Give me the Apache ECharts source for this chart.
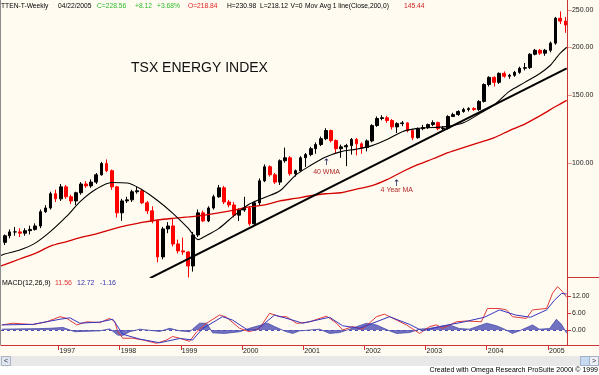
<!DOCTYPE html>
<html><head><meta charset="utf-8">
<script src="https://cdn.jsdelivr.net/npm/echarts@6/dist/echarts.min.js"></script>
<style>html,body{margin:0;padding:0;background:#fffbf0}#c{width:599px;height:375px}</style>
</head><body><div id="c"></div>
<script>
// ---------- DATA ----------
const monthLabels = [
 '1996-02','1996-03','1996-04','1996-05','1996-06','1996-07','1996-08','1996-09','1996-10','1996-11','1996-12',
 '1997-01','1997-02','1997-03','1997-04','1997-05','1997-06','1997-07','1997-08','1997-09','1997-10','1997-11','1997-12',
 '1998-01','1998-02','1998-03','1998-04','1998-05','1998-06','1998-07','1998-08','1998-09','1998-10','1998-11','1998-12',
 '1999-01','1999-02','1999-03','1999-04','1999-05','1999-06','1999-07','1999-08','1999-09','1999-10','1999-11','1999-12',
 '2000-01','2000-02','2000-03','2000-04','2000-05','2000-06','2000-07','2000-08','2000-09','2000-10','2000-11','2000-12',
 '2001-01','2001-02','2001-03','2001-04','2001-05','2001-06','2001-07','2001-08','2001-09','2001-10','2001-11','2001-12',
 '2002-01','2002-02','2002-03','2002-04','2002-05','2002-06','2002-07','2002-08','2002-09','2002-10','2002-11','2002-12',
 '2003-01','2003-02','2003-03','2003-04','2003-05','2003-06','2003-07','2003-08','2003-09','2003-10','2003-11','2003-12',
 '2004-01','2004-02','2004-03','2004-04','2004-05','2004-06','2004-07','2004-08','2004-09','2004-10','2004-11','2004-12',
 '2005-01','2005-02','2005-03','2005-04'
];
const opens = [
 62,64.5,66,66,65.5,66.5,67,68.4,74.5,76.2,83,
 80.5,86.5,81.5,79.5,83.5,88,87,89,93,99.5,95.3,86.5,
 74,79.5,80,84,84.5,78.6,74.9,70.5,56.8,67.2,68.4,61.4,
 58.9,58.5,53.8,64.8,74,70.5,76.2,81.5,86,79,77.6,73,
 75.3,76.2,69.3,78.6,89.7,97.6,93,89,101.2,103,93.6,95.3,
 103,105,108.8,111.5,115.5,121.3,114.2,108.8,110,110.8,115,112,
 109.5,114,125,130.4,131,128.8,124,126.5,127,121.3,116.2,122.7,
 123.5,125.7,127.2,122.7,123,132,133.5,136,137.6,138.4,137.6,144.5,
 159.9,166.9,162,171,168,169,172,176.3,177,191.8,196.4,193,
 196.4,205,238,234
];
const closes = [
 64.5,66,66,65.5,66.5,67,68.4,74.5,76.2,83,80.5,
 86.5,81.5,79.5,83.5,88,87,89,93,99.5,95.3,86.5,74,
 79.5,80,84,84.5,78.6,74.9,70.5,56.8,67.2,68.4,61.4,58.9,
 58.5,53.8,64.8,74,70.5,76.2,81.5,86,79,77.6,73,75.3,
 76.2,69.3,78.6,89.7,97.6,93,89,101.2,103,93.6,95.3,103,
 105,108.8,111.5,115.5,121.3,114.2,108.8,110,110.8,115,112,109.5,
 114,125,130.4,131,128.8,124,126.5,127,121.3,116.2,122.7,123.5,
 125.7,127.2,122.7,123,132,133.5,136,137.6,138.4,137.6,144.5,159.9,
 166.9,162,171,168,169,172,176.3,177,191.8,196.4,193,196.4,
 205,238,234,228.56
];
const lows = [
 61,63.5,64.5,64,64.5,65,66.5,67.5,74,75.5,79,
 79.5,80.5,78,77.5,82.5,86,86,88,92.5,94.5,85,72,
 70.5,78.5,79,83,78,73.5,69.5,55,56,65.5,60.5,58,
 57.5,50.2,52,64,70,70,75.5,81,78,76.5,72,70.5,
 74.5,68.5,68.5,77.5,89,92,88,87.5,100,92.5,92,94.5,
 97.5,104,105.5,110.5,114.5,113,106,103,98,105,104.5,105.5,
 107,113,124,129,127,122,119.5,124.5,120,114.5,115.5,121.5,
 122.5,124.5,121.5,121,122,131.5,132.5,135,136,136.5,136.5,143.5,
 158,158,160.5,166.5,165.5,167.5,170.5,174,175.5,190.5,191,190,
 194,203,230,218.12
];
const highs = [
 65,67,68,67.5,67.5,68.5,69.5,75.5,77.5,84,85,
 88,87.5,82.5,84,89,89.5,90.5,94,100.5,102,96,87,
 80.5,81.5,85,86.5,85.5,79.5,77,71,68,70,71.5,63,
 63.8,58.8,66,75.5,75,77,82.5,87.5,87,80,79,76,
 81.5,77,79.5,91,99,98.5,94,102,109.5,104,96,104,
 106,110,113,117,123,122,115,111.5,112,116,116,113,
 115,126,132,133,132.5,130,127.5,128.5,127.5,122,123.5,125.5,
 126.5,129,128,124.5,133,135,137,139,139.5,139.5,145.5,161,
 168,168,172,173,170.5,173.5,178,182,193,198,198,198,
 207,240,248,240
];
// 40-week weighted moving average (black thin line)
const wma40 = [
 ['1996-01-24',57.3],['1996-02-15',57.8],['1996-05-15',59.2],['1996-08-15',61.7],['1996-11-15',66.2],
 ['1997-02-15',72.2],['1997-05-15',79.5],['1997-08-15',85.4],['1997-11-15',88.8],['1998-02-15',88.5],
 ['1998-05-15',85.0],['1998-08-15',79.7],['1998-11-15',73.8],['1999-02-15',67.4],['1999-04-15',63.0],
 ['1999-05-15',63.9],['1999-08-15',67.3],['1999-11-15',72.8],['2000-02-15',78.0],['2000-05-15',81.2],
 ['2000-08-15',84.5],['2000-11-15',92.7],['2001-02-15',98.5],['2001-05-15',103.5],['2001-08-15',106.9],
 ['2001-11-15',108.5],['2002-02-15',110.8],['2002-05-15',114.9],['2002-08-15',120.5],['2002-11-15',122.9],
 ['2003-02-15',123.5],['2003-05-15',124.4],['2003-08-15',127.1],['2003-11-15',133.9],['2004-02-15',141.5],
 ['2004-05-15',153.5],['2004-08-15',162.0],['2004-11-15',171.1],['2005-01-15',179.5],['2005-02-15',186.6],
 ['2005-03-15',193.0],['2005-04-22',200.0]
];
// 200-week (4 year) moving average (red line)
const ma200 = [
 ['1996-01-24',53.8],['1996-02-15',54.2],['1996-05-15',56.1],['1996-08-15',58.0],['1996-11-15',60.6],
 ['1997-02-15',62.2],['1997-05-15',63.9],['1997-08-15',65.2],['1997-11-15',67.0],['1998-02-15',68.6],
 ['1998-05-15',69.9],['1998-08-15',70.9],['1998-11-15',71.6],['1999-02-15',72.2],['1999-05-15',72.9],
 ['1999-08-15',74.0],['1999-11-15',75.3],['2000-02-15',76.7],['2000-05-15',77.6],['2000-08-15',79.5],
 ['2000-11-15',80.7],['2001-02-15',82.0],['2001-05-15',83.0],['2001-08-15',83.5],['2001-11-15',85.3],
 ['2002-02-15',87.1],['2002-05-15',90.3],['2002-08-15',94.7],['2002-11-15',98.8],['2003-02-15',102.4],
 ['2003-05-15',106.2],['2003-08-15',109.5],['2003-11-15',112.8],['2004-02-15',116.2],['2004-05-15',121.3],
 ['2004-08-15',126.1],['2004-11-15',132.7],['2005-02-15',140.1],['2005-04-22',145.44]
];
// hand-drawn trendline end points
const trendLine = [['1998-07-01',50.0],['2005-04-22',176.2]];
// MACD(12,26,9)
const macdLine = [
 ['1996-01-29',1.8],['1996-04-04',2.4],['1996-08-01',1.9],['1996-10-23',2.9],['1997-01-10',4.7],['1997-02-20',4.1],
 ['1997-04-20',1.8],['1997-06-19',2.9],['1997-09-04',2.6],['1997-11-03',4.1],['1997-12-03',3.0],['1997-12-21',-0.6],
 ['1998-01-20',-2.9],['1998-03-20',-2.9],['1998-05-19',-3.5],['1998-08-10',-4.7],['1998-10-09',-3.5],['1998-11-13',-2.3],
 ['1998-12-25',-2.9],['1999-02-23',-4.0],['1999-04-06',-0.6],['1999-06-04',2.4],['1999-08-21',5.3],['1999-10-01',4.5],
 ['1999-12-18',0.6],['2000-02-15',-0.6],['2000-04-15',0.6],['2000-06-14',5.9],['2000-08-13',4.7],['2000-09-23',4.7],
 ['2000-11-22',2.4],['2000-12-10',2.4],['2001-02-08',2.9],['2001-05-20',4.9],['2001-07-19',2.4],['2001-08-24',0.0],
 ['2001-10-22',1.2],['2001-12-21',0.3],['2002-03-14',4.7],['2002-05-01',5.6],['2002-07-12',3.5],['2002-09-09',1.8],
 ['2002-11-26',-1.2],['2003-01-25',1.2],['2003-03-07',1.8],['2003-04-12',0.6],['2003-07-04',2.9],['2003-09-02',3.2],
 ['2003-11-30',2.9],['2004-01-05',7.6],['2004-03-17',7.6],['2004-04-28',7.1],['2004-06-02',4.7],['2004-08-25',4.1],
 ['2004-09-30',7.1],['2004-12-23',7.6],['2005-01-28',13.0],['2005-02-27',15.3],['2005-03-29',13.5],['2005-04-22',11.56]
];
const signalLine = [
 ['1996-01-29',1.8],['1996-08-01',2.0],['1997-01-10',3.8],['1997-03-10',4.3],['1997-05-08',2.4],['1997-09-04',2.8],
 ['1997-11-21',3.8],['1998-01-20',-1.5],['1998-05-01',-3.2],['1998-08-28',-4.5],['1998-12-25',-3.0],['1999-03-13',-3.5],
 ['1999-05-11',0.5],['1999-09-07',4.7],['1999-11-06',3.5],['2000-02-04',0.0],['2000-03-28',0.0],['2000-07-14',5.3],
 ['2000-10-30',3.5],['2000-12-28',2.4],['2001-06-07',4.5],['2001-08-24',1.5],['2001-12-03',0.6],['2002-05-31',4.7],
 ['2002-09-27',2.0],['2002-12-13',-0.3],['2003-03-25',1.2],['2003-08-21',2.9],['2003-12-18',4.5],['2004-03-17',7.1],
 ['2004-06-20',5.3],['2004-09-18',4.5],['2004-12-23',7.1],['2005-02-08',10.5],['2005-03-22',12.9],['2005-04-22',12.72]
];
const histBars = [
 ['1996-01-29',0.3],['1996-09-12',0.5],['1996-11-10',0.6],['1997-01-28',0.9],['1997-04-08',-0.6],['1997-09-04',-0.3],
 ['1997-11-03',0.4],['1997-12-21',-1.8],['1998-01-20',-1.9],['1998-03-02',-0.6],['1998-05-01',0.3],['1998-08-28',-0.5],
 ['1998-10-27',0.6],['1998-12-25',-0.3],['1999-02-23',-0.6],['1999-04-23',2.4],['1999-06-04',2.4],['1999-07-10',-1.0],
 ['1999-09-19',-1.2],['1999-12-18',-0.6],['2000-02-15',0.6],['2000-06-02',2.4],['2000-07-14',1.2],['2000-09-17',-0.5],
 ['2000-10-30',-1.2],['2000-12-10',-0.3],['2001-04-09',0.3],['2001-06-07',-1.2],['2001-08-06',-0.9],['2001-10-04',0.3],
 ['2002-01-14',2.4],['2002-03-14',1.8],['2002-05-31',-0.3],['2002-07-12',-1.2],['2002-09-27',-0.9],['2002-11-26',0.3],
 ['2003-01-25',0.6],['2003-05-23',1.8],['2003-07-22',0.5],['2003-09-20',0.3],['2003-12-31',2.4],['2004-02-28',1.5],
 ['2004-04-16',0.3],['2004-06-02',-1.2],['2004-07-14',-0.3],['2004-09-30',1.8],['2004-11-10',0.3],['2005-01-10',0.5],
 ['2005-02-20',3.8],['2005-03-22',2.0],['2005-04-22',-1.16]
];
const priceTicks = [100,150,200,250];
const macdTicks = [0,6,12];
const yearTicks = [1997,1998,1999,2000,2001,2002,2003,2004,2005];

// ---------- CHART ----------
const FONT = '"Liberation Sans", Arial, sans-serif';
const RED_AX = '#cc3333';
function ts(s) { const p = s.split('-').map(Number); return new Date(p[0], (p[1]||1) - 1, p[2]||1).getTime(); }
const X_MIN = ts('1996-01-24');
const X_MAX = ts('2005-04-24');
const yearTs = yearTicks.map(y => new Date(y,0,1).getTime());
const pts = arr => arr.map(d => [ts(d[0]), d[1]]);
const candleData = monthLabels.map((m,i) => [ts(m + '-15'), opens[i], closes[i], lows[i], highs[i]]);

function txt(x, y, text, color, size, align) {
  return {type:'text', silent:true, z:50, style:{x:x, y:y, text:text, fill:color||'#000',
    font:(size||7)+'px ' + FONT, align:align||'left', verticalAlign:'middle'}};
}
const HS = 6.7; // header font size

const graphics = [
  {type:'rect', silent:true, z:40, shape:{x:0,y:366,width:599,height:9}, style:{fill:'#ffffff'}},
  {type:'rect', silent:true, z:40, shape:{x:0,y:356,width:599,height:10}, style:{fill:'#e8e8e8'}},
  {type:'rect', silent:true, z:41, shape:{x:1.5,y:356.5,width:9,height:9}, style:{fill:'#dfe6ef', stroke:'#aab4c4'}},
  {type:'rect', silent:true, z:41, shape:{x:580.5,y:356.5,width:9,height:9}, style:{fill:'#c8daf2', stroke:'#9fb0c8'}},
  {type:'rect', silent:true, z:41, shape:{x:589.5,y:356.5,width:9,height:9}, style:{fill:'#eef2f8', stroke:'#9fb0c8'}},
  txt(6, 361, '<', '#223', 7, 'center'),
  txt(594, 361, '>', '#223', 7, 'center'),
  {type:'line', silent:true, z:45, shape:{x1:567,y1:277.5,x2:599,y2:277.5}, style:{stroke:RED_AX, lineWidth:1}},
  {type:'line', silent:true, z:45, shape:{x1:567,y1:345.5,x2:599,y2:345.5}, style:{stroke:RED_AX, lineWidth:1}},
  {type:'line', silent:true, z:45, shape:{x1:0.5,y1:0,x2:0.5,y2:345}, style:{stroke:'#8c8c8c', lineWidth:1}},
  // header
  txt(1, 6, 'TTEN-T-Weekly', '#000', HS), txt(58, 6, '04/22/2005', '#000', HS),
  txt(97, 6, 'C=228.56', '#2db82d', HS), txt(135, 6, '+8.12', '#2db82d', HS), txt(157, 6, '+3.68%', '#2db82d', HS),
  txt(188, 6, 'O=218.84', '#dd2222', HS), txt(227, 6, 'H=230.98', '#000', HS), txt(260, 6, 'L=218.12', '#000', HS),
  txt(290.5, 6, 'V=0', '#000', HS),
  txt(305, 6, 'Mov Avg 1 line(Close,200,0)', '#000', HS), txt(404, 6, '145.44', '#cc2222', HS),
  // title
  txt(131, 68.5, 'TSX ENERGY INDEX', '#111', 14),
  // MACD legend
  txt(2, 283.5, 'MACD(12,26,9)'), txt(55, 283.5, '11.56', '#dd3333'),
  txt(77, 283.5, '12.72', '#3333aa'), txt(100, 283.5, '-1.16', '#3333aa'),
  // footer
  txt(598, 370.5, 'Created with Omega Research ProSuite 2000i \u00a9 1999', '#000', 7, 'right')
];

const annot = (date, value, text, color, size, family) => ({
  coord: [ts(date), value],
  label: {formatter: text, color: color, fontSize: size, fontFamily: family || FONT}
});

const option = {
  animation: false,
  backgroundColor: '#fffbf0',
  textStyle: {fontFamily: FONT},
  grid: [
    {left: 1, right: 32, top: 0, height: 277},
    {left: 1, right: 32, top: 277, height: 68}
  ],
  xAxis: [
    {type: 'value', gridIndex: 0, min: X_MIN, max: X_MAX, show: false, splitLine: {show: false}},
    {type: 'value', gridIndex: 1, min: X_MIN, max: X_MAX,
     axisLine: {show: true, onZero: false, lineStyle: {color: RED_AX, width: 1}},
     axisTick: {show: true, customValues: yearTs, length: 5, lineStyle: {color: RED_AX}},
     axisLabel: {show: true, customValues: yearTs, formatter: v => String(new Date(v).getFullYear()),
       align: 'left', margin: 3, fontSize: 7, color: '#222', padding: [0,0,0,1], fontFamily: FONT,
       showMinLabel: true, showMaxLabel: true},
     splitLine: {show: false}}
  ],
  yAxis: [
    {type: 'log', logBase: 10, gridIndex: 0, position: 'right', min: 50.35, max: 265.6,
     axisLine: {show: true, onZero: false, lineStyle: {color: RED_AX}},
     axisTick: {show: false}, axisLabel: {show: false}, splitLine: {show: false}},
    {type: 'value', gridIndex: 1, position: 'right', min: -5.29, max: 18.71,
     axisLine: {show: true, onZero: false, lineStyle: {color: RED_AX}},
     axisTick: {show: true, customValues: macdTicks, length: 4, lineStyle: {color: RED_AX}},
     axisLabel: {show: true, customValues: macdTicks, formatter: v => Number(v).toFixed(2),
       fontSize: 7, color: '#222', margin: 5, fontFamily: FONT},
     splitLine: {show: false}}
  ],
  series: [
    {type: 'candlestick', xAxisIndex: 0, yAxisIndex: 0, data: candleData, barWidth: 3.2, z: 2,
     itemStyle: {color: '#000', color0: '#ff0000', borderColor: '#000', borderColor0: '#ff0000', borderWidth: 1}},
    {type: 'line', xAxisIndex: 0, yAxisIndex: 0, data: pts(ma200), symbol: 'none', smooth: 0.3, z: 3,
     lineStyle: {color: '#d40000', width: 1.3},
     markPoint: {silent: true, symbol: 'circle', symbolSize: 1, itemStyle: {color: 'rgba(0,0,0,0)'},
       label: {show: true, position: 'inside'},
       data: [annot('2002-07-13', 88.3, '\u2191', '#1c1c66', 9, '"DejaVu Sans"'),
              annot('2002-07-13', 84.7, '4 Year MA', '#b02a2a', 7)]}},
    {type: 'line', xAxisIndex: 0, yAxisIndex: 0, data: pts(wma40), symbol: 'none', smooth: 0.3, z: 4,
     lineStyle: {color: '#000', width: 1.1},
     markPoint: {silent: true, symbol: 'circle', symbolSize: 1, itemStyle: {color: 'rgba(0,0,0,0)'},
       label: {show: true, position: 'inside'},
       data: [annot('2001-05-20', 100.1, '\u2191', '#1c1c66', 9, '"DejaVu Sans"'),
              annot('2001-05-20', 94.6, '40 WMA', '#b02a2a', 7)]}},
    {type: 'line', xAxisIndex: 0, yAxisIndex: 0, data: pts(trendLine), symbol: 'none', z: 5,
     lineStyle: {color: '#000', width: 2},
     markLine: {silent: true, symbol: ['none','none'],
       lineStyle: {color: 'rgba(0,0,0,0)', width: 0},
       label: {show: true, position: 'end', distance: 1, color: '#222', fontSize: 7, fontFamily: FONT,
         formatter: p => '{d|\u2013}' + Number(p.value).toFixed(2),
         rich: {d: {color: RED_AX, fontSize: 7, fontFamily: FONT}}},
       data: priceTicks.map(v => ({yAxis: v}))}},
    {type: 'line', xAxisIndex: 1, yAxisIndex: 1, data: pts(histBars), symbol: 'none', z: 2,
     lineStyle: {color: '#4a4aa8', width: 0.8},
     areaStyle: {color: '#6262bc', opacity: 0.9, origin: 0},
     markLine: {silent: true, symbol: ['none','none'], label: {show: false},
       lineStyle: {color: '#5050b0', type: [3,3], width: 1},
       data: [{yAxis: 0}]}},
    {type: 'line', xAxisIndex: 1, yAxisIndex: 1, data: pts(macdLine), symbol: 'none', z: 3,
     lineStyle: {color: '#e03a3a', width: 1}},
    {type: 'line', xAxisIndex: 1, yAxisIndex: 1, data: pts(signalLine), symbol: 'none', z: 4,
     lineStyle: {color: '#3535c0', width: 1}}
  ],
  graphic: graphics
};

const chart = echarts.init(document.getElementById('c'), null, {renderer: 'canvas'});
chart.setOption(option);
</script>
</body></html>
